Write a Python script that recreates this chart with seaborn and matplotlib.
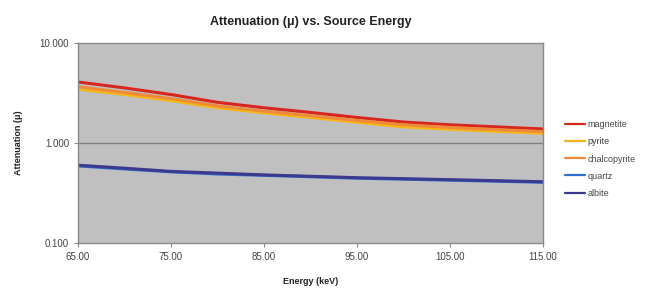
import pandas as pd
import seaborn as sns
import matplotlib
matplotlib.use("Agg")
import matplotlib.pyplot as plt
from matplotlib.ticker import FixedLocator, NullLocator

# energies (keV) and attenuation values
energy = [65, 70, 75, 80, 85, 90, 95, 100, 105, 110, 115]
magnetite = [4.07, 3.55, 3.05, 2.55, 2.25, 2.02, 1.80, 1.62, 1.52, 1.45, 1.38]
pyrite = [3.45, 3.05, 2.65, 2.25, 2.00, 1.80, 1.61, 1.45, 1.37, 1.31, 1.25]
chalcopyrite = [3.65, 3.20, 2.78, 2.35, 2.08, 1.87, 1.68, 1.52, 1.43, 1.36, 1.30]
quartz = [0.59, 0.55, 0.515, 0.49, 0.475, 0.46, 0.445, 0.435, 0.425, 0.415, 0.405]
albite = [0.60, 0.56, 0.52, 0.50, 0.48, 0.465, 0.45, 0.44, 0.43, 0.42, 0.41]

minerals = ["magnetite", "pyrite", "chalcopyrite", "quartz", "albite"]
colors = ["#d7261e", "#f6b716", "#ee8a3a", "#2e6fd0", "#3b3a8e"]
x_ticks = [65, 75, 85, 95, 105, 115]
y_ticks = [0.1, 1, 10]

rows = []
for name, vals in zip(minerals, [magnetite, pyrite, chalcopyrite, quartz, albite]):
    for e, v in zip(energy, vals):
        rows.append({"Energy": e, "Attenuation": v, "mineral": name})
df = pd.DataFrame(rows)

sns.set_style("white")
plt.rcParams['font.family'] = ['Liberation Sans', 'DejaVu Sans']

fig = plt.figure(figsize=(6.5, 2.88), dpi=100)
ax = fig.add_axes([0.12, 0.156, 0.715, 0.695])
ax.set_facecolor("#c0c0c0")

sns.lineplot(data=df, x="Energy", y="Attenuation", hue="mineral",
             hue_order=minerals, palette=colors, linewidth=2.2, ax=ax)

ax.set_yscale("log")
ax.set_ylim(0.1, 10)
ax.set_xlim(65, 115)
ax.yaxis.set_major_locator(FixedLocator(y_ticks))
ax.yaxis.set_minor_locator(NullLocator())
ax.set_yticklabels(["0.100", "1.000", "10.000"])
ax.set_xticks(x_ticks)
ax.set_xticklabels(["%.2f" % t for t in x_ticks])
ax.axhline(1, color="#808080", lw=1, zorder=0)

for s in ax.spines.values():
    s.set_color("#8a8a8a")
    s.set_linewidth(1)
ax.tick_params(axis="both", labelsize=7, colors="#8a8a8a", labelcolor="#444444",
               direction="out", length=3, width=0.8, left=True, bottom=True)

ax.set_xlabel("Energy (keV)", fontsize=6.5, fontweight="bold", color="#222222", labelpad=11)
ax.set_ylabel("Attenuation (μ)", fontsize=6.5, fontweight="bold", color="#222222", labelpad=12)
ax.set_title("Attenuation (μ) vs. Source Energy", fontsize=9, fontweight="bold",
             color="#222222", pad=13)

leg = ax.legend(loc="center left", bbox_to_anchor=(1.03, 0.42), frameon=False,
                fontsize=6.5, handlelength=2.2, labelspacing=0.9, handletextpad=0.3)
for t in leg.get_texts():
    t.set_color("#444444")
for h in leg.get_lines():
    h.set_linewidth(1.6)

fig.savefig("out.png", dpi=100)
